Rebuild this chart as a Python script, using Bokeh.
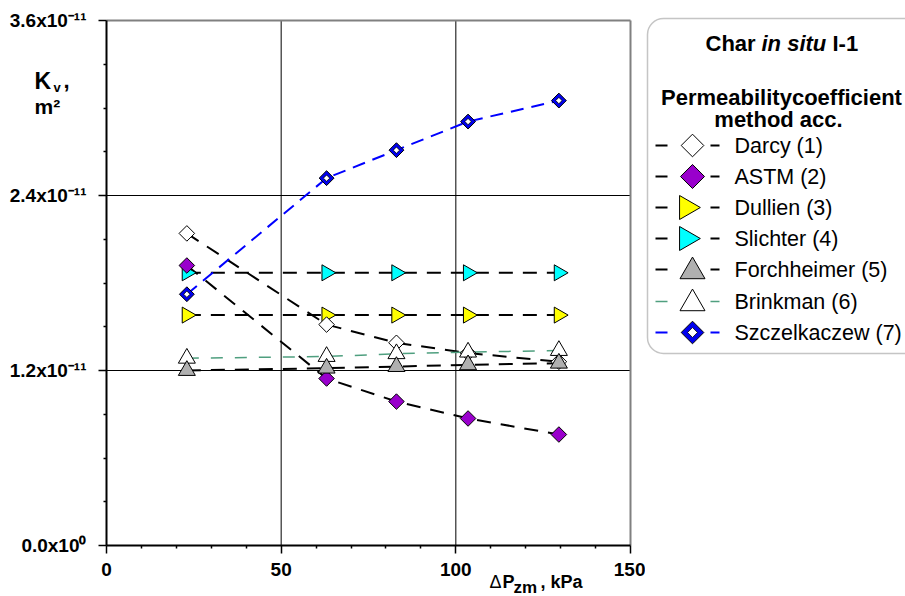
import math
from bokeh.plotting import figure
from bokeh.models import (Range1d, FixedTicker, CustomJSTickFormatter, Label,
                          BoxAnnotation)
from bokeh.layouts import row
from bokeh.embed import file_html
from bokeh.resources import INLINE

# ---------------- data ----------------
dp_kpa = [23, 63, 83, 103.5, 129.5]
darcy = [2.14e-11, 1.515e-11, 1.39e-11, 1.32e-11, 1.26e-11]
astm = [1.92e-11, 1.145e-11, 0.987e-11, 0.871e-11, 0.761e-11]
dullien = [1.58e-11, 1.58e-11, 1.58e-11, 1.58e-11, 1.58e-11]
slichter = [1.87e-11, 1.87e-11, 1.87e-11, 1.87e-11, 1.87e-11]
forchheimer = [1.20e-11, 1.216e-11, 1.227e-11, 1.239e-11, 1.25e-11]
brinkman = [1.284e-11, 1.296e-11, 1.315e-11, 1.326e-11, 1.337e-11]
szczelkaczew = [1.723e-11, 2.519e-11, 2.711e-11, 2.907e-11, 3.051e-11]

series_names = ["Darcy (1)", "ASTM (2)", "Dullien (3)", "Slichter (4)",
                "Forchheimer (5)", "Brinkman (6)", "Szczelkaczew (7)"]

x_ticks = [0, 50, 100, 150]
x_minor = [10, 20, 30, 40, 60, 70, 80, 90, 110, 120, 130, 140]
y_ticks = [0.0, 1.2e-11, 2.4e-11, 3.6e-11]
y_minor = [0.3e-11, 0.6e-11, 0.9e-11, 1.5e-11, 1.8e-11, 2.1e-11,
           2.7e-11, 3.0e-11, 3.3e-11]
y_tick_labels = ["0.0x10\u2070", "1.2x10\u207b\u00b9\u00b9",
                 "2.4x10\u207b\u00b9\u00b9", "3.6x10\u207b\u00b9\u00b9"]

FONT = "Liberation Sans"

# ---------------- layout geometry (pixels) ----------------
W, H = 645, 596
FL, FR, FT, FB = 106, 630, 20, 545          # data-area edges in pixels
x_lo, x_hi = x_ticks[0], x_ticks[-1]
y_lo, y_hi = y_ticks[0], y_ticks[-1]
xs = (FR - FL) / (x_hi - x_lo)
ys = (FB - FT) / (y_hi - y_lo)


def dx(px):
    return x_lo + (px - FL) / xs


def dy(py):
    return y_lo + (FB - py) / ys


p = figure(width=W, height=H, output_backend="svg", toolbar_location=None,
           x_range=Range1d(dx(0), dx(W)), y_range=Range1d(dy(H), dy(0)),
           min_border=0, background_fill_color="white",
           border_fill_color="white")
p.outline_line_color = None
p.grid.visible = False

for ax in (p.xaxis[0], p.yaxis[0]):
    ax.fixed_location = 0
    ax.axis_line_color = "black"
    ax.axis_line_width = 2
    ax.major_tick_line_color = "black"
    ax.major_tick_line_width = 1.5
    ax.major_tick_out = 8
    ax.major_tick_in = 0
    ax.minor_tick_line_color = "black"
    ax.minor_tick_line_width = 1.5
    ax.minor_tick_out = 3
    ax.minor_tick_in = 0
    ax.major_label_text_font = FONT
    ax.major_label_text_font_style = "bold"
    ax.major_label_text_font_size = "19px"
    ax.major_label_text_color = "black"

p.xaxis.bounds = (x_lo, x_hi)
p.yaxis.bounds = (y_lo, y_hi)
p.xaxis.ticker = FixedTicker(ticks=x_ticks, minor_ticks=x_minor)
p.yaxis.ticker = FixedTicker(ticks=y_ticks, minor_ticks=y_minor)
p.xaxis.major_label_standoff = 9
p.yaxis.major_label_standoff = 12
p.yaxis.formatter = CustomJSTickFormatter(args=dict(t=y_ticks, l=y_tick_labels), code="""
let b = 0;
for (let i = 0; i < t.length; i++) { if (Math.abs(t[i]-tick) < Math.abs(t[b]-tick)) b = i; }
return l[b];
""")

# grid lines at the inner ticks, border at the outer ones
gx = x_ticks[1:-1]
gy = y_ticks[1:-1]
p.segment(x0=gx, y0=[y_lo] * len(gx), x1=gx, y1=[y_hi] * len(gx),
          line_color="black", line_width=1)
p.segment(x0=[x_lo] * len(gy), y0=gy, x1=[x_hi] * len(gy), y1=gy,
          line_color="black", line_width=1)
p.segment(x0=[x_lo, x_hi], y0=[y_hi, y_lo], x1=[x_hi, x_hi], y1=[y_hi, y_hi],
          line_color="#808080", line_width=2)

BLACK_DASH = "14 10"
GREEN = "#4f9f7f"
for s in [darcy, astm, dullien, slichter, forchheimer]:
    p.line(dp_kpa, s, line_color="black", line_width=2, line_dash=BLACK_DASH)
p.line(dp_kpa, brinkman, line_color=GREEN, line_width=1.5, line_dash="12 12")
p.line(dp_kpa, szczelkaczew, line_color="#0000ff", line_width=2, line_dash="13 8")

ROT = math.pi / 4
p.scatter(dp_kpa, dullien, marker="triangle", angle=-math.pi / 2, size=16,
          fill_color="#ffff00", line_color="black", line_width=1)
p.scatter(dp_kpa, slichter, marker="triangle", angle=-math.pi / 2, size=16,
          fill_color="#00ffff", line_color="black", line_width=1)
p.scatter(dp_kpa, astm, marker="square", angle=ROT, size=11,
          fill_color="#9900cc", line_color="black", line_width=1)
p.scatter(dp_kpa, darcy, marker="square", angle=ROT, size=11,
          fill_color="white", line_color="black", line_width=1)
p.scatter(dp_kpa, brinkman, marker="triangle", size=17,
          fill_color="white", line_color="black", line_width=1)
p.scatter(dp_kpa, forchheimer, marker="triangle", size=17,
          fill_color="#b0b0b0", line_color="black", line_width=1)
p.scatter(dp_kpa, szczelkaczew, marker="square", angle=ROT, size=10.5,
          fill_color="#0000ee", line_color="black", line_width=1)
p.scatter(dp_kpa, szczelkaczew, marker="square", angle=ROT, size=4.5,
          fill_color="white", line_color="black", line_width=0.8)


def lab(fig, x, y, text, size, style="bold", align="left", baseline="middle"):
    fig.add_layout(Label(x=x, y=y, text=text, text_font=FONT,
                         text_font_size=size, text_font_style=style,
                         text_color="black", text_align=align,
                         text_baseline=baseline))

# axis titles
lab(p, dx(34), dy(80), "K", "23px")
lab(p, dx(53), dy(87), "v", "13px")
lab(p, dx(63), dy(80), ",", "22px")
lab(p, dx(34), dy(106), "m\u00b2", "21px")

lab(p, dx(489), dy(581), "\u0394", "18px", style="normal")
lab(p, dx(502), dy(581), "P", "18px")
lab(p, dx(513), dy(587), "zm", "17px")
lab(p, dx(540), dy(581), ", kPa", "18px")

# ---------------- legend panel ----------------
leg = figure(width=260, height=H, output_backend="svg", toolbar_location=None,
             x_range=Range1d(645, 905), y_range=Range1d(H, 0),
             x_axis_type=None, y_axis_type=None, min_border=0,
             background_fill_color="white", border_fill_color="white")
leg.grid.visible = False
leg.outline_line_color = None

leg.add_layout(BoxAnnotation(left=647, right=930, top=18, bottom=353,
                             border_radius=16, fill_color="white", fill_alpha=1,
                             line_color="#404040", line_width=1.5,
                             level="underlay"))

TS = "22px"
lab(leg, 705, 43, "Char", TS)
lab(leg, 761, 43, "in situ", TS, style="bold italic")
lab(leg, 832, 43, "I-1", TS)
lab(leg, 781, 97, "Permeabilitycoefficient", TS, align="center")
lab(leg, 778, 119, "method acc.", TS, align="center")

row_y = [145, 176, 207, 238, 269, 301, 332]
line_cols = ["black", "black", "black", "black", "black", GREEN, "#0000ff"]
mx = 692
for i, name in enumerate(series_names):
    yy = row_y[i]
    lw = 1.5 if i == 5 else 2
    leg.segment(x0=[655, 710], y0=[yy, yy], x1=[667, 719], y1=[yy, yy],
                line_color=line_cols[i], line_width=lw)
    lab(leg, 734, yy, name, "21.5px", style="normal")

leg.scatter([mx], [row_y[0]], marker="square", angle=ROT, size=16,
            fill_color="white", line_color="black", line_width=1)
leg.scatter([mx], [row_y[1]], marker="square", angle=ROT, size=17,
            fill_color="#9900cc", line_color="black", line_width=1)
leg.scatter([mx - 6], [row_y[2]], marker="triangle", angle=-math.pi / 2, size=24,
            fill_color="#ffff00", line_color="black", line_width=1)
leg.scatter([mx - 6], [row_y[3]], marker="triangle", angle=-math.pi / 2, size=24,
            fill_color="#00ffff", line_color="black", line_width=1)
leg.scatter([mx], [row_y[4] + 2], marker="triangle", size=25,
            fill_color="#b0b0b0", line_color="black", line_width=1)
leg.scatter([mx], [row_y[5] + 2], marker="triangle", size=25,
            fill_color="white", line_color="black", line_width=1)
leg.scatter([mx], [row_y[6]], marker="square", angle=ROT, size=16,
            fill_color="#0000ee", line_color="black", line_width=1)
leg.scatter([mx], [row_y[6]], marker="square", angle=ROT, size=7,
            fill_color="white", line_color="black", line_width=0.8)

layout = row(p, leg, spacing=0)
open("out.html", "w").write(file_html(layout, INLINE))
